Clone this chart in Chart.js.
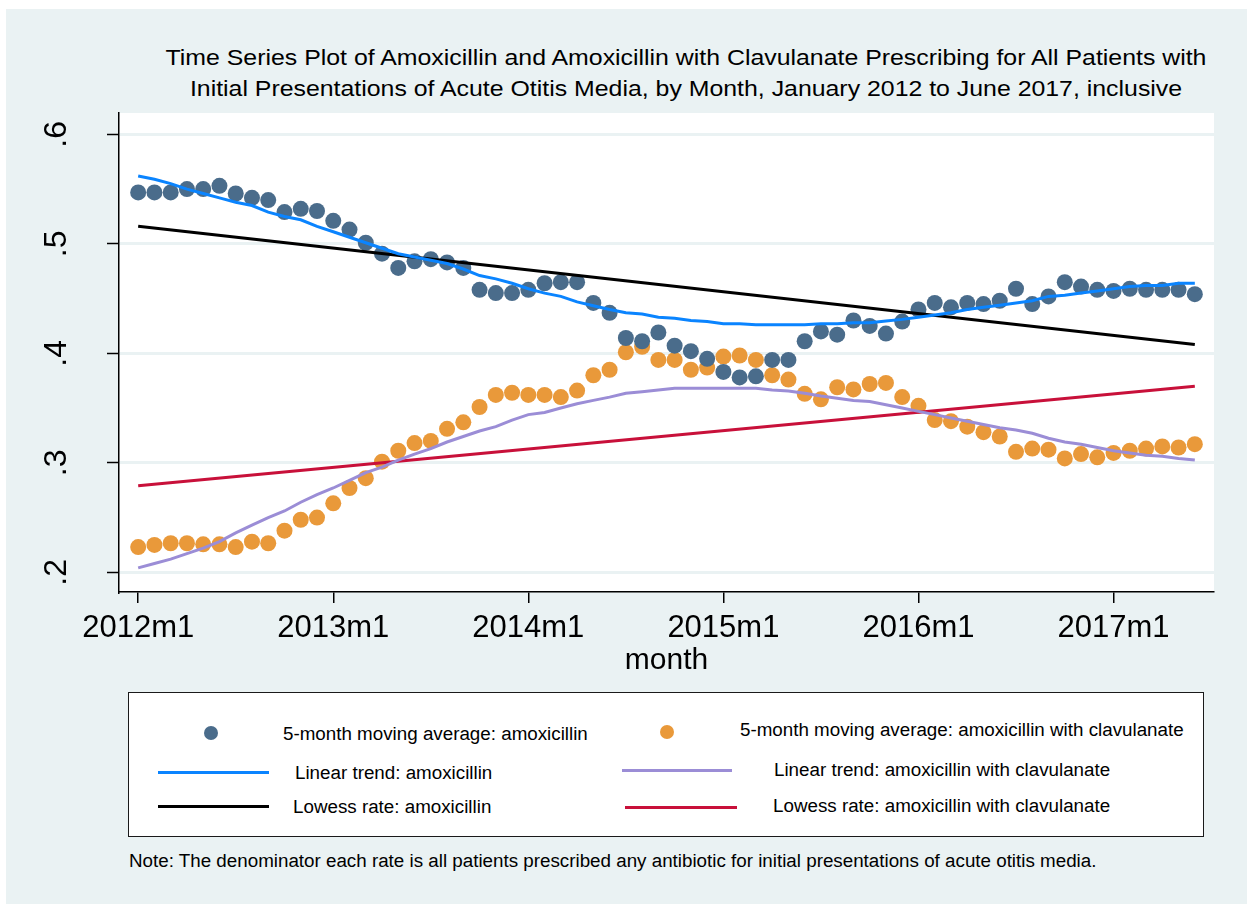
<!DOCTYPE html>
<html>
<head>
<meta charset="utf-8">
<title>Amoxicillin prescribing, acute otitis media</title>
<script src="https://cdn.jsdelivr.net/npm/chart.js@4.4.1/dist/chart.umd.min.js"></script>
<style>
  html, body { margin: 0; padding: 0; background: #fff; }
  #page { position: relative; width: 1247px; height: 904px; overflow: hidden;
          font-family: "Liberation Sans", Arial, sans-serif; color: #000; }
  #bg { position: absolute; left: 6px; top: 9px; right: 0; bottom: 0; background: #eaf2f3; }
  #plot { position: absolute; left: 0; top: 0; }
  /* Stata's title face runs wider than Liberation Sans, so stretch it a little */
  .title { position: absolute; left: 126px; width: 1120px; text-align: center;
           font-size: 22px; line-height: 1; white-space: nowrap;
           transform: scaleX(1.13); transform-origin: 560px 0; }
  #legend { position: absolute; left: 128px; top: 692px; width: 1076px; height: 145px;
            box-sizing: border-box; background: #fff; border: 1px solid #1a1a1a; }
  .txt { position: absolute; line-height: 1; white-space: nowrap; }
  .dot { position: absolute; width: 14px; height: 14px; border-radius: 50%; }
  .swatch { position: absolute; height: 3px; }
</style>
</head>
<body>
<div id="page">
  <div id="bg"></div>
  <div class="title" style="top:47px">Time Series Plot of Amoxicillin and Amoxicillin with Clavulanate Prescribing for All Patients with</div>
  <div class="title" style="top:78px">Initial Presentations of Acute Otitis Media, by Month, January 2012 to June 2017, inclusive</div>
  <canvas id="plot" width="1247" height="700"></canvas>
  <div id="legend"></div>
</div>
<script>
// Months, January 2012 .. June 2017 (Stata %tm labels)
const monthLabels = [
  "2012m1","2012m2","2012m3","2012m4","2012m5","2012m6","2012m7","2012m8","2012m9","2012m10","2012m11","2012m12",
  "2013m1","2013m2","2013m3","2013m4","2013m5","2013m6","2013m7","2013m8","2013m9","2013m10","2013m11","2013m12",
  "2014m1","2014m2","2014m3","2014m4","2014m5","2014m6","2014m7","2014m8","2014m9","2014m10","2014m11","2014m12",
  "2015m1","2015m2","2015m3","2015m4","2015m5","2015m6","2015m7","2015m8","2015m9","2015m10","2015m11","2015m12",
  "2016m1","2016m2","2016m3","2016m4","2016m5","2016m6","2016m7","2016m8","2016m9","2016m10","2016m11","2016m12",
  "2017m1","2017m2","2017m3","2017m4","2017m5","2017m6"
];

// 5-month moving averages
const amoxMovingAvg = [
  0.547, 0.547, 0.547, 0.550, 0.550, 0.553, 0.546, 0.542, 0.540, 0.529,
  0.532, 0.530, 0.521, 0.513, 0.501, 0.491, 0.478, 0.484, 0.486, 0.483,
  0.478, 0.458, 0.455, 0.455, 0.458, 0.464, 0.465, 0.465, 0.446, 0.437,
  0.414, 0.411, 0.419, 0.407, 0.402, 0.395, 0.383, 0.378, 0.379, 0.394,
  0.394, 0.411, 0.420, 0.417, 0.430, 0.425, 0.418, 0.429, 0.440, 0.446,
  0.442, 0.446, 0.445, 0.448, 0.459, 0.445, 0.452, 0.465, 0.461, 0.458,
  0.457, 0.459, 0.458, 0.458, 0.458, 0.454
];
const clavMovingAvg = [
  0.223, 0.225, 0.2265, 0.2265, 0.2255, 0.2255, 0.223, 0.228, 0.2265, 0.238,
  0.248, 0.250, 0.263, 0.277, 0.286, 0.301, 0.311, 0.318, 0.320, 0.331,
  0.337, 0.351, 0.362, 0.364, 0.362, 0.362, 0.360, 0.366, 0.380, 0.385,
  0.401, 0.406, 0.394, 0.394, 0.385, 0.387, 0.397, 0.398, 0.394, 0.380,
  0.376, 0.363, 0.358, 0.369, 0.367, 0.372, 0.373, 0.360, 0.352, 0.339,
  0.338, 0.333, 0.328, 0.324, 0.310, 0.313, 0.312, 0.304, 0.308, 0.305,
  0.309, 0.311, 0.313, 0.315, 0.314, 0.317
];

// "Linear trend" curves (smoothed)
const amoxLinearTrend = [
  0.562, 0.559, 0.555, 0.550, 0.546, 0.542, 0.538, 0.535, 0.529, 0.525,
  0.522, 0.516, 0.511, 0.506, 0.501, 0.496, 0.491, 0.488, 0.485, 0.482,
  0.477, 0.471, 0.468, 0.464, 0.459, 0.455, 0.452, 0.447, 0.4435, 0.440,
  0.437, 0.436, 0.433, 0.432, 0.430, 0.429, 0.427, 0.427, 0.426, 0.426,
  0.426, 0.426, 0.427, 0.427, 0.428, 0.428, 0.4295, 0.431, 0.433, 0.435,
  0.437, 0.440, 0.442, 0.444, 0.446, 0.448, 0.452, 0.453, 0.455, 0.457,
  0.459, 0.461, 0.462, 0.462, 0.464, 0.464
];
const clavLinearTrend = [
  0.204, 0.208, 0.212, 0.217, 0.222, 0.228, 0.236, 0.243, 0.250, 0.256,
  0.264, 0.271, 0.277, 0.284, 0.291, 0.296, 0.3025, 0.308, 0.313, 0.319,
  0.324, 0.329, 0.333, 0.339, 0.344, 0.346, 0.350, 0.354, 0.357, 0.360,
  0.3635, 0.365, 0.3665, 0.368, 0.368, 0.368, 0.368, 0.368, 0.368, 0.3665,
  0.3656, 0.3635, 0.361, 0.359, 0.357, 0.356, 0.353, 0.350, 0.347, 0.344,
  0.341, 0.338, 0.335, 0.332, 0.330, 0.327, 0.3224, 0.319, 0.317, 0.314,
  0.311, 0.309, 0.307, 0.306, 0.304, 0.3025
];

// "Lowess rate" lines: straight, first and last month only
const lowessMonths = [0, 65];
const amoxLowess = [0.516, 0.408];
const clavLowess = [0.279, 0.370];

// Axis ticks
const xTickMonths = [0, 12, 24, 36, 48, 60];
const yTickValues = [0.2, 0.3, 0.4, 0.5, 0.6];
const yTickLabels = [".2", ".3", ".4", ".5", ".6"];

const COLORS = {
  amoxDot: "#4a6c8b",
  clavDot: "#e9993a",
  amoxTrend: "#0a84ff",
  clavTrend: "#9b8dd6",
  amoxLowess: "#000000",
  clavLowess: "#c8103a",
  grid: "#eaf2f3"
};
const FONT = "'Liberation Sans', Arial, sans-serif";

const toPoints = (xs, ys) => ys.map((y, i) => ({ x: xs[i], y: y }));
const monthIdx = monthLabels.map((_, i) => i);

const lineDs = (label, xs, ys, color) => ({
  label, data: toPoints(xs, ys), showLine: true, borderColor: color,
  borderWidth: 3, pointRadius: 0, tension: 0, fill: false
});
const dotDs = (label, ys, color) => ({
  label, data: toPoints(monthIdx, ys), showLine: false, backgroundColor: color,
  borderWidth: 0, pointRadius: 8, pointHoverRadius: 8
});

// Stata draws the y labels turned 90 degrees; Chart.js can't rotate left-axis labels cleanly.
const rotatedYLabels = {
  id: "rotatedYLabels",
  beforeDraw(chart) {
    const { ctx, chartArea: a } = chart;
    ctx.save();
    ctx.fillStyle = "#fff";
    ctx.fillRect(a.left, a.top, a.right - a.left, a.bottom - a.top);
    ctx.restore();
  },
  afterDraw(chart) {
    const { ctx, scales: { y } } = chart;
    ctx.save();
    ctx.font = "32px " + FONT;
    ctx.fillStyle = "#000";
    ctx.textAlign = "center";
    ctx.textBaseline = "alphabetic";
    yTickValues.forEach((v, i) => {
      ctx.save();
      ctx.translate(66, y.getPixelForValue(v));
      ctx.rotate(-Math.PI / 2);
      ctx.fillText(yTickLabels[i], 0, 0);
      ctx.restore();
    });
    ctx.restore();
  }
};

Chart.defaults.font.family = FONT;
Chart.defaults.color = "#000";

new Chart(document.getElementById("plot"), {
  type: "scatter",
  data: {
    datasets: [
      lineDs("Linear trend: amoxicillin", monthIdx, amoxLinearTrend, COLORS.amoxTrend),
      lineDs("Linear trend: amoxicillin with clavulanate", monthIdx, clavLinearTrend, COLORS.clavTrend),
      lineDs("Lowess rate: amoxicillin", lowessMonths, amoxLowess, COLORS.amoxLowess),
      lineDs("Lowess rate: amoxicillin with clavulanate", lowessMonths, clavLowess, COLORS.clavLowess),
      dotDs("5-month moving average: amoxicillin", amoxMovingAvg, COLORS.amoxDot),
      dotDs("5-month moving average: amoxicillin with clavulanate", clavMovingAvg, COLORS.clavDot)
    ]
  },
  options: {
    responsive: false,
    animation: false,
    devicePixelRatio: 1,
    layout: { padding: { left: 0, top: 113, right: 33, bottom: 21 } },
    plugins: { legend: { display: false }, tooltip: { enabled: false } },
    scales: {
      x: {
        type: "linear",
        min: -1.18,
        max: 66.18,
        afterBuildTicks: (s) => { s.ticks = xTickMonths.map(v => ({ value: v })); },
        afterFit: (s) => { s.height = 87; },
        ticks: {
          callback: (v) => monthLabels[v],
          font: { size: 31 }, color: "#000", padding: 7,
          maxRotation: 0, autoSkip: false
        },
        grid: { drawOnChartArea: false, color: "#000", tickLength: 11, lineWidth: 1.5 },
        border: { color: "#000", width: 1.5 },
        title: { display: true, text: "month", font: { size: 30 }, color: "#000", padding: 0 }
      },
      y: {
        min: 0.182,
        max: 0.6195,
        afterBuildTicks: (s) => { s.ticks = yTickValues.map(v => ({ value: v })); },
        afterFit: (s) => { s.width = 119; },
        ticks: { color: "rgba(0,0,0,0)", callback: (v) => yTickLabels[yTickValues.indexOf(v)] },
        grid: { color: COLORS.grid, lineWidth: 3, tickColor: "#000", tickLength: 12, tickWidth: 1.5 },
        border: { color: "#000", width: 1.5 }
      }
    }
  },
  plugins: [rotatedYLabels]
});

// Two-column legend box and the note underneath
const page = document.getElementById("page");
function text(str, x, baseline, size) {
  const el = document.createElement("div");
  el.className = "txt";
  el.style.fontSize = size + "px";
  el.style.left = x + "px";
  el.style.top = (baseline - 0.8465 * size) + "px";
  el.textContent = str;
  page.appendChild(el);
}
function dot(cx, cy, color) {
  const el = document.createElement("div");
  el.className = "dot";
  el.style.left = (cx - 7) + "px";
  el.style.top = (cy - 7) + "px";
  el.style.background = color;
  page.appendChild(el);
}
function swatch(x1, x2, y, color) {
  const el = document.createElement("div");
  el.className = "swatch";
  el.style.left = x1 + "px";
  el.style.width = (x2 - x1) + "px";
  el.style.top = (y - 1.5) + "px";
  el.style.background = color;
  page.appendChild(el);
}

const LEG = 18.8;
dot(211, 733, COLORS.amoxDot);
text("5-month moving average: amoxicillin", 283, 741, LEG);
dot(667, 732, COLORS.clavDot);
text("5-month moving average: amoxicillin with clavulanate", 740, 737, LEG);
swatch(158, 269, 772, COLORS.amoxTrend);
text("Linear trend: amoxicillin", 295, 780, LEG);
swatch(622, 732, 770, COLORS.clavTrend);
text("Linear trend: amoxicillin with clavulanate", 774, 777, LEG);
swatch(158, 269, 806, COLORS.amoxLowess);
text("Lowess rate: amoxicillin", 293, 814, LEG);
swatch(625, 737, 807, COLORS.clavLowess);
text("Lowess rate: amoxicillin with clavulanate", 773, 813, LEG);

text("Note: The denominator each rate is all patients prescribed any antibiotic for initial presentations of acute otitis media.", 129, 868, 18.8);
</script>
</body>
</html>
